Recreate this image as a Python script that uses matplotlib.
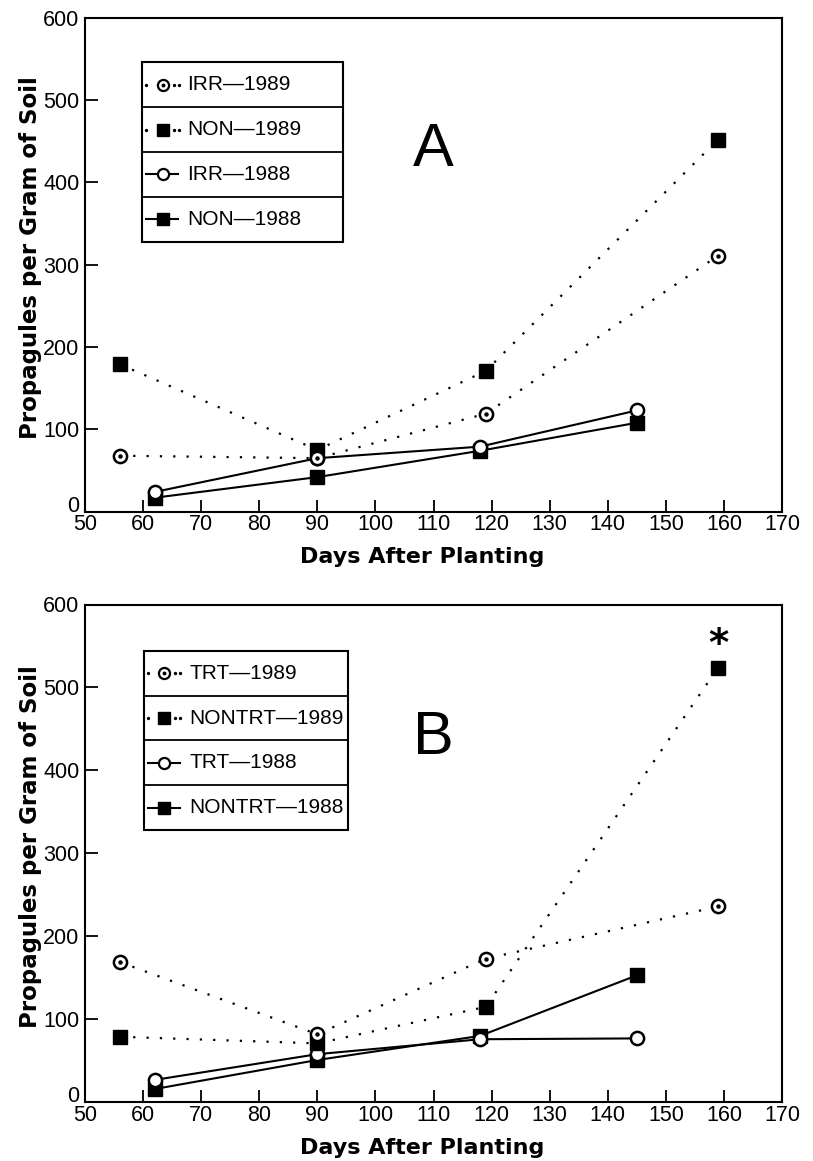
import matplotlib
matplotlib.use("Agg")
import matplotlib.pyplot as plt
from matplotlib.patches import Rectangle
from matplotlib.lines import Line2D

plt.rcParams['font.family'] = ['Liberation Sans', 'DejaVu Sans']

# ---------------- data ----------------
xticks = [50, 60, 70, 80, 90, 100, 110, 120, 130, 140, 150, 160, 170]
yticks = [0, 100, 200, 300, 400, 500, 600]

# Panel A
a_irr89_x = [56, 90, 119, 159]
a_irr89_y = [68, 65, 119, 311]
a_non89_x = [56, 90, 119, 159]
a_non89_y = [179, 75, 171, 452]
a_irr88_x = [62, 90, 118, 145]
a_irr88_y = [24, 65, 79, 123]
a_non88_x = [62, 90, 118, 145]
a_non88_y = [17, 42, 74, 108]
a_labels = ["IRR\u20141989", "NON\u20141989", "IRR\u20141988", "NON\u20141988"]

# Panel B
b_trt89_x = [56, 90, 119, 159]
b_trt89_y = [169, 82, 173, 236]
b_non89_x = [56, 90, 119, 159]
b_non89_y = [79, 71, 115, 524]
b_trt88_x = [62, 90, 118, 145]
b_trt88_y = [27, 58, 76, 77]
b_non88_x = [62, 90, 118, 145]
b_non88_y = [16, 51, 80, 153]
b_labels = ["TRT\u20141989", "NONTRT\u20141989", "TRT\u20141988", "NONTRT\u20141988"]

W, H = 813, 1161
fig = plt.figure(figsize=(W / 100, H / 100), dpi=100)

def fr(l, t, r, b):
    return [l / W, 1 - b / H, (r - l) / W, (b - t) / H]

axA = fig.add_axes(fr(85, 17.7, 782, 511.7))
axB = fig.add_axes(fr(85, 604.5, 782, 1102.3))

DOT = (0, (1, 5))
LWD = 1.6
LWS = 1.5
MS_C = 9.5
MS_S = 10

def draw_series(ax, s):
    (c89x, c89y), (s89x, s89y), (c88x, c88y), (s88x, s88y) = s
    ax.plot(s88x, s88y, '-', color='black', lw=LWS, marker='s', ms=MS_S,
            mfc='black', mec='black')
    ax.plot(c88x, c88y, '-', color='black', lw=LWS, marker='o', ms=MS_C,
            mfc='white', mec='black', mew=1.8)
    ax.plot(s89x, s89y, linestyle=DOT, color='black', lw=LWD, marker='s', ms=MS_S,
            mfc='black', mec='black')
    ax.plot(c89x, c89y, linestyle=DOT, color='black', lw=LWD,
            marker='o', ms=MS_C, mfc='white', mec='black', mew=1.8)
    ax.plot(c89x, c89y, linestyle='none', marker='o', ms=2.2, mfc='black', mec='black')

def style_axis(ax, letter):
    ax.set_xlim(50, 170)
    ax.set_ylim(0, 600)
    ax.set_xticks(xticks)
    ax.set_yticks(yticks)
    ax.tick_params(direction='in', length=9, width=1.3, labelsize=15.5, pad=2)
    ax.tick_params(axis='y', pad=4)
    for sp in ax.spines.values():
        sp.set_linewidth(1.5)
    ax.yaxis.get_major_ticks()[0].label1.set_va('baseline')
    ax.set_xlabel("Days After Planting", fontsize=16, fontweight='bold',
                  family='DejaVu Sans')
    ax.xaxis.set_label_coords(0.484, -0.072)
    ax.set_ylabel("Propagules per Gram of Soil", fontsize=16.5, fontweight='bold',
                  family='DejaVu Sans')
    ax.yaxis.set_label_coords(-0.062, 0.514)
    ax.text(110, 439, letter, fontsize=44, ha='center', va='center')

def draw_legend(ax, left, right, top, bottom, marker_x, text_x, labels):
    tr = ax.transAxes
    ax.add_patch(Rectangle((left, bottom), right - left, top - bottom, transform=tr,
                           fill=False, lw=1.5, ec='black', zorder=5))
    rh = (top - bottom) / 4
    for i in range(1, 4):
        yy = top - i * rh
        ax.add_line(Line2D([left, right], [yy, yy], transform=tr, color='black', lw=1.3, zorder=5))
    styles = ['dcirc', 'dsq', 'ocirc', 'ssq']
    for i, (st, lab) in enumerate(zip(styles, labels)):
        yc = top - (i + 0.5) * rh
        if st in ('dcirc', 'dsq'):
            dx = [marker_x - 0.0238, marker_x + 0.0158, marker_x + 0.0225]
            ax.plot(dx, [yc] * 3, transform=tr, linestyle='none', marker='o', ms=1.4,
                    mfc='black', mec='black', zorder=6)
        else:
            ax.plot([marker_x - 0.024, marker_x + 0.022], [yc, yc], transform=tr,
                    color='black', lw=LWS, zorder=6)
        if st == 'dcirc':
            ax.plot([marker_x], [yc], transform=tr, marker='o', ms=8, mfc='white',
                    mec='black', mew=1.6, zorder=7)
            ax.plot([marker_x], [yc], transform=tr, marker='o', ms=1.8, mfc='black',
                    mec='black', zorder=8)
        elif st == 'ocirc':
            ax.plot([marker_x], [yc], transform=tr, marker='o', ms=8, mfc='white',
                    mec='black', mew=1.6, zorder=7)
        else:
            ax.plot([marker_x], [yc], transform=tr, marker='s', ms=9, mfc='black',
                    mec='black', zorder=7)
        ax.text(text_x, yc, lab, transform=tr, fontsize=15, ha='left', va='center',
                zorder=8)

draw_series(axA, [(a_irr89_x, a_irr89_y), (a_non89_x, a_non89_y),
                  (a_irr88_x, a_irr88_y), (a_non88_x, a_non88_y)])
style_axis(axA, "A")
draw_legend(axA, 0.0822, 0.3706, 0.9097, 0.5466, 0.112, 0.146, a_labels)

draw_series(axB, [(b_trt89_x, b_trt89_y), (b_non89_x, b_non89_y),
                  (b_trt88_x, b_trt88_y), (b_non88_x, b_non88_y)])
style_axis(axB, "B")
draw_legend(axB, 0.0847, 0.3778, 0.9066, 0.547, 0.1138, 0.1496, b_labels)
axB.text(b_non89_x[-1], b_non89_y[-1] + 27, "*", fontsize=28, fontweight='bold',
         ha='center', va='center', family='DejaVu Sans')

fig.savefig("out.png", dpi=100)
